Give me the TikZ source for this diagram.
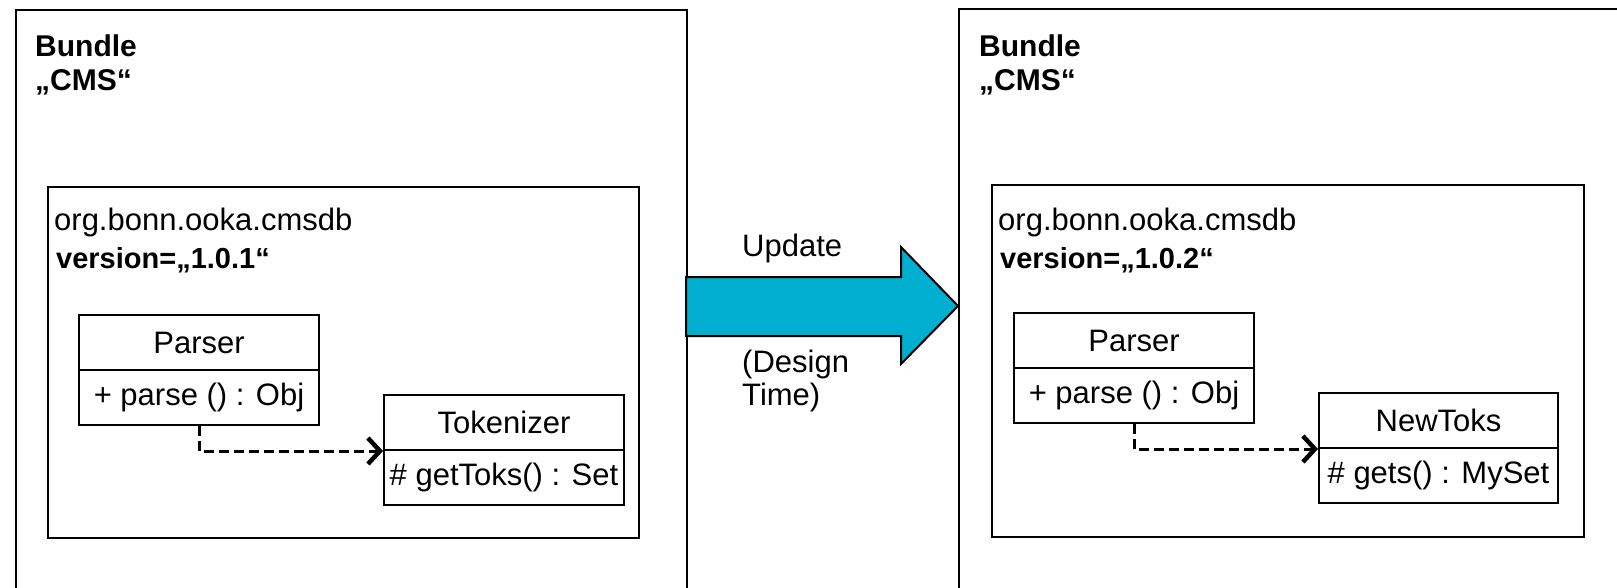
\documentclass[tikz,border=0pt]{standalone}
\usepackage{fontspec}
\setmainfont{Liberation Sans}
\usetikzlibrary{arrows.meta}
\definecolor{updblue}{RGB}{0,174,207}
\tikzset{
  frame/.style={draw, line width=2pt, inner sep=0pt, anchor=north west},
  compart/.style={draw, line width=2pt, minimum width=240pt, minimum height=55pt,
    inner sep=0pt, anchor=north west, font=\fontsize{31}{36}\selectfont},
  plaintext/.style={inner sep=0pt, anchor=base west, font=\fontsize{31}{36}\selectfont},
  titletext/.style={inner sep=0pt, anchor=base west, font=\fontsize{30}{34}\selectfont\bfseries},
  vertext/.style={inner sep=0pt, anchor=base west, font=\fontsize{29}{34}\selectfont\bfseries},
  depend/.style={line width=3pt, dash pattern=on 10pt off 5pt,
    -{Straight Barb[length=12pt, width=26pt, line width=4.5pt]}},
  blockarrow/.style={fill=updblue, draw=black, line width=2pt, line join=miter},
}
\begin{document}
\begin{tikzpicture}[x=1pt, y=-1pt]
  \useasboundingbox (0,0) rectangle (1617,588);
  \clip (0,0) rectangle (1617,588);

  % bundle frames (running past the page edges)
  \node[frame, minimum width=671pt, minimum height=640pt] (b1) at (14.7,9) {};
  \node[frame, minimum width=720pt, minimum height=640pt] (b2) at (958,8.5) {};

  % update arrow between the bundles
  \draw[blockarrow] (686,277) -- (901,277) -- (901,247) -- (958,306)
        -- (901,364) -- (901,336) -- (686,336) -- cycle;
  \node[plaintext] (upd) at (742,257) {Update};
  \node[plaintext] (dt1) at (742,372) {(Design};
  \node[plaintext] (dt2) at (742,405) {Time)};

  % ---------------- left bundle ----------------
  \node[titletext] (t1a) at (35,57) {Bundle};
  \node[titletext] (t1b) at (35,91) {„CMS“};
  \node[frame, minimum width=591pt, minimum height=351pt] (p1) at (47,186) {};
  \node[plaintext] (o1) at (54,231) {org.bonn.ooka.cmsdb};
  \node[vertext] (v1) at (56,268) {version=„1.0.1“};

  \node[compart] (pn1) at (78,314) {Parser};
  \node[compart] (po1) at (78,369) {+ parse () : Obj};
  \node[compart] (tn1) at (383,394) {Tokenizer};
  \node[compart] (to1) at (383,449) {\# getToks() : Set};
  \draw[depend] (po1.south) |- (tn1.south west);

  % ---------------- right bundle ----------------
  \node[titletext] (t2a) at (979,57) {Bundle};
  \node[titletext] (t2b) at (979,91) {„CMS“};
  \node[frame, minimum width=592.5pt, minimum height=352pt] (p2) at (990.5,184) {};
  \node[plaintext] (o2) at (998,231) {org.bonn.ooka.cmsdb};
  \node[vertext] (v2) at (1000,268) {version=„1.0.2“};

  \node[compart] (pn2) at (1013,312) {Parser};
  \node[compart] (po2) at (1013,367) {+ parse () : Obj};
  \node[compart, minimum width=239pt] (tn2) at (1318,392) {NewToks};
  \node[compart, minimum width=239pt] (to2) at (1318,447) {\# gets() : MySet};
  \draw[depend] (po2.south) |- (tn2.south west);
\end{tikzpicture}
\end{document}
